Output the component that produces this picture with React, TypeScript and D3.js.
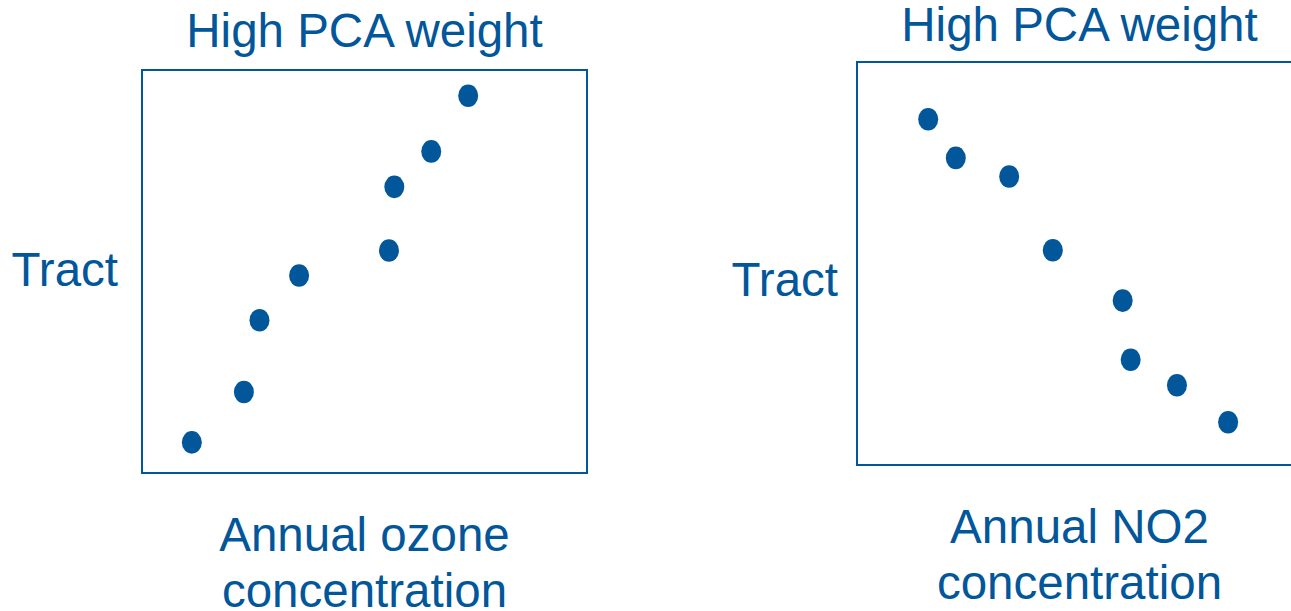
import React, { useEffect, useRef } from 'react';
import * as d3 from 'd3';

// Values in a 0-100 space inside each box
const ozoneX = [11.2, 22.9, 26.4, 35.3, 55.5, 56.7, 65.0, 73.3];
const ozoneY = [7.6, 20.1, 37.9, 49.0, 55.2, 71.0, 79.8, 93.6];
const no2X = [16.0, 22.2, 34.2, 44.0, 59.7, 61.5, 71.9, 83.4];
const no2Y = [85.8, 76.2, 71.6, 53.3, 40.8, 26.1, 19.8, 10.6];

const panelTitles = ['High PCA weight', 'High PCA weight'];
const yLabels = ['Tract', 'Tract'];
const xLabels = [
  ['Annual ozone', 'concentration'],
  ['Annual NO2', 'concentration'],
];

const BLUE = '#02569a';
const FONT = '"Liberation Sans", Arial, sans-serif';

const W = 1291;
const H = 611;

const App: React.FC = () => {
  const svgRef = useRef<SVGSVGElement>(null);

  useEffect(() => {
    if (!svgRef.current) return;
    const svg = d3.select(svgRef.current);
    svg.selectAll('*').remove();

    const panels = [
      { box: { x: 142, y: 70, w: 445, h: 403 }, xs: ozoneX, ys: ozoneY, titleY: 47, tractX: 118, tractY: 286, labelY: 551 },
      { box: { x: 857, y: 62, w: 445, h: 403 }, xs: no2X, ys: no2Y, titleY: 41, tractX: 838, tractY: 296, labelY: 543 },
    ];

    panels.forEach((p, i) => {
      const { box } = p;
      const xScale = d3.scaleLinear().domain([0, 100]).range([box.x, box.x + box.w]);
      const yScale = d3.scaleLinear().domain([0, 100]).range([box.y + box.h, box.y]);
      const cx = box.x + box.w / 2;

      const g = svg.append('g');

      g.append('rect')
        .attr('x', box.x)
        .attr('y', box.y)
        .attr('width', box.w)
        .attr('height', box.h)
        .attr('fill', 'none')
        .attr('stroke', BLUE)
        .attr('stroke-width', 2);

      g.selectAll('ellipse')
        .data(p.xs.map((x, j) => ({ x, y: p.ys[j] })))
        .join('ellipse')
        .attr('cx', d => xScale(d.x))
        .attr('cy', d => yScale(d.y))
        .attr('rx', 10)
        .attr('ry', 11.3)
        .attr('fill', BLUE);

      const text = (s: string, x: number, y: number, anchor: string) =>
        g.append('text')
          .attr('x', x)
          .attr('y', y)
          .attr('text-anchor', anchor)
          .attr('fill', BLUE)
          .attr('font-family', FONT)
          .attr('font-size', 47.5)
          .text(s);

      text(panelTitles[i], cx, p.titleY, 'middle');
      text(yLabels[i], p.tractX, p.tractY, 'end');
      xLabels[i].forEach((s, k) => text(s, cx, p.labelY + k * 56, 'middle'));
    });
  }, []);

  return (
    <svg
      ref={svgRef}
      width={W}
      height={H}
      style={{ position: 'absolute', left: 0, top: 0, background: '#fff' }}
    />
  );
};

export default App;
